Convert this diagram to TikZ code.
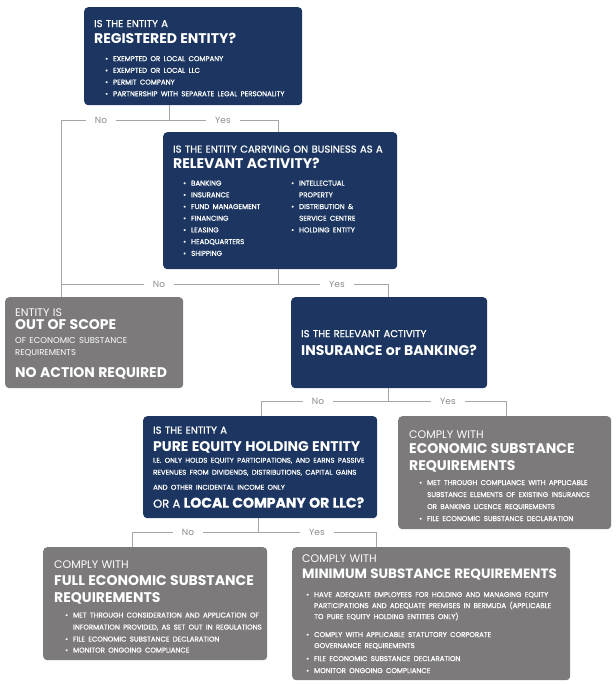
\documentclass[tikz,border=0pt]{standalone}
\usepackage{fontspec}
\setmainfont{Poppins}
\newfontfamily\medfont{Poppins}[FakeBold=0.9]
\usetikzlibrary{positioning}
\setlength\parindent{0pt}
\definecolor{navy}{RGB}{28,54,97}
\definecolor{boxgray}{RGB}{125,122,123}
\definecolor{linegray}{RGB}{165,165,165}
\definecolor{labelgray}{RGB}{140,140,140}
\tikzset{
    x=1pt, y=-1pt,
    qbox/.style = {fill=navy, text=white, rounded corners=4pt, anchor=north west,
                   align=left, inner xsep=10pt, inner ysep=0pt},
    abox/.style = {qbox, fill=boxgray},
    conn/.style = {draw=linegray, line width=0.8pt},
    lbl/.style  = {fill=white, text=labelgray, inner xsep=9pt, inner ysep=1pt,
                   font=\fontsize{9}{10}\selectfont}
}
\newlength\bulind
\newcommand\qtop[1]{\rule{0pt}{#1}}
\newcommand\qhead[2][16]{{\medfont\fontsize{10}{#1}\selectfont\mbox{#2}\par}}
\newcommand\qlight[2][14]{{\fontsize{11}{#1}\selectfont\mbox{#2}\par}}
\newcommand\qbig[2][16]{{\fontsize{14}{#1}\bfseries\selectfont\mbox{#2}\par}}
\newcommand\qnote[2][12]{{\medfont\fontsize{6.9}{#1}\selectfont\mbox{#2}\par}}
\newcommand\qitem[2][11.7]{{\medfont\fontsize{7}{#1}\selectfont\hspace*{\bulind}\makebox[8pt][l]{\textbullet}\mbox{#2}\par}}
\newcommand\qcont[2][11.7]{{\medfont\fontsize{7}{#1}\selectfont\hspace*{\bulind}\hspace*{8pt}\mbox{#2}\par}}

\begin{document}
\begin{tikzpicture}
    \useasboundingbox (0,0) rectangle (615,684);

    % question boxes
    \node[qbox, minimum width=218pt, minimum height=98pt, text width=198pt] (reg) at (84,7) {%
        \setlength\bulind{11pt}%
        \qhead{\qtop{11pt}IS THE ENTITY A}
        \qbig{REGISTERED ENTITY?}
        \qitem[18]{EXEMPTED OR LOCAL COMPANY}
        \qitem{EXEMPTED OR LOCAL LLC}
        \qitem{PERMIT COMPANY}
        \qitem{PARTNERSHIP WITH SEPARATE LEGAL PERSONALITY}};

    \node[qbox, minimum width=234pt, minimum height=137pt, text width=214pt] (act) at (163,132) {%
        \setlength\bulind{0pt}%
        \qhead{IS THE ENTITY CARRYING ON BUSINESS AS A}
        \qbig{RELEVANT ACTIVITY?}
        {\fontsize{7}{17}\selectfont\hspace*{10pt}%
        \parbox[t]{108pt}{\qitem{BANKING}\qitem{INSURANCE}\qitem{FUND MANAGEMENT}\qitem{FINANCING}%
            \qitem{LEASING}\qitem{HEADQUARTERS}\qitem{SHIPPING}}%
        \parbox[t]{90pt}{\qitem{INTELLECTUAL}\qcont{PROPERTY}\qitem{DISTRIBUTION \&}%
            \qcont{SERVICE CENTRE}\qitem{HOLDING ENTITY}}\par}};

    \node[qbox, minimum width=196pt, minimum height=91pt, text width=176pt] (insb) at (291,297) {%
        \qhead{IS THE RELEVANT ACTIVITY}
        \qbig[18]{INSURANCE or BANKING?}};

    \node[qbox, minimum width=234pt, minimum height=102pt, text width=214pt] (peh) at (143,416) {%
        \qhead{IS THE ENTITY A}
        \qbig[18]{PURE EQUITY HOLDING ENTITY}
        \qnote[11]{I.E. ONLY HOLDS EQUITY PARTICIPATIONS, AND EARNS PASSIVE}
        \qnote{REVENUES FROM DIVIDENDS, DISTRIBUTIONS, CAPITAL GAINS}
        \qnote[15]{AND OTHER INCIDENTAL INCOME ONLY}
        {\medfont\fontsize{11.5}{18}\selectfont OR A {\fontsize{14}{18}\bfseries\selectfont LOCAL COMPANY OR LLC?}\par}};

    % answer boxes
    \node[abox, minimum width=178pt, minimum height=91pt, text width=158pt] (scope) at (5,297) {%
        \qlight{\qtop{10.7pt}ENTITY IS}
        \qbig[13]{OUT OF SCOPE}
        {\fontsize{8.5}{14}\selectfont OF ECONOMIC SUBSTANCE\par}
        {\fontsize{8.5}{12}\selectfont REQUIREMENTS\par}
        \qbig[22]{NO ACTION REQUIRED}};

    \node[abox, minimum width=213pt, minimum height=113pt, text width=191pt, inner xsep=11pt] (esr) at (398,416) {%
        \setlength\bulind{10pt}%
        \qlight{\qtop{13.7pt}COMPLY WITH}
        \qbig[15]{ECONOMIC SUBSTANCE}
        \qbig[17]{REQUIREMENTS}
        \qitem[15]{MET THROUGH COMPLIANCE WITH APPLICABLE}
        \qcont[12]{SUBSTANCE ELEMENTS OF EXISTING INSURANCE}
        \qcont[12]{OR BANKING LICENCE REQUIREMENTS}
        \qitem[12]{FILE ECONOMIC SUBSTANCE DECLARATION}};

    \node[abox, minimum width=224pt, minimum height=113pt, text width=202pt, inner xsep=11pt] (full) at (43,547) {%
        \setlength\bulind{11pt}%
        \qlight{\qtop{13.7pt}COMPLY WITH}
        \qbig[17]{FULL ECONOMIC SUBSTANCE}
        \qbig[17]{REQUIREMENTS}
        \qitem[15]{MET THROUGH CONSIDERATION AND APPLICATION OF}
        \qcont[12]{INFORMATION PROVIDED, AS SET OUT IN REGULATIONS}
        \qitem[12]{FILE ECONOMIC SUBSTANCE DECLARATION}
        \qitem[11]{MONITOR ONGOING COMPLIANCE}};

    \node[abox, minimum width=278pt, minimum height=133pt, text width=258pt] (mini) at (292,547) {%
        \setlength\bulind{4pt}%
        \qlight{COMPLY WITH}
        {\fontsize{13.5}{16}\bfseries\selectfont\mbox{MINIMUM SUBSTANCE REQUIREMENTS}\par}
        \qitem[19]{HAVE ADEQUATE EMPLOYEES FOR HOLDING AND MANAGING EQUITY}
        \qcont[11]{PARTICIPATIONS AND ADEQUATE PREMISES IN BERMUDA (APPLICABLE}
        \qcont[11]{TO PURE EQUITY HOLDING ENTITIES ONLY)}
        \qitem[18]{COMPLY WITH APPLICABLE STATUTORY CORPORATE}
        \qcont[11]{GOVERNANCE REQUIREMENTS}
        \qitem[13]{FILE ECONOMIC SUBSTANCE DECLARATION}
        \qitem[12]{MONITOR ONGOING COMPLIANCE}};

    % junctions
    \coordinate (j1) at (169,120);
    \coordinate (j1l) at (61,120);
    \coordinate (j1r) at (278,120);
    \coordinate (j2) at (278,284);
    \coordinate (j2l) at (61,284);
    \coordinate (j2r) at (388,284);
    \coordinate (j3) at (388,401);
    \coordinate (j3l) at (261,401);
    \coordinate (j3r) at (506,401);
    \coordinate (j4) at (258,532);
    \coordinate (j4l) at (132,532);
    \coordinate (j4r) at (376,532);

    % connectors
    \draw[conn] (reg.south -| j1) -- (j1);
    \draw[conn] (j1) -- (j1l) -- (scope.north -| j1l);
    \draw[conn] (j1) -- (j1r) -- (act.north -| j1r);

    \draw[conn] (act.south -| j2) -- (j2);
    \draw[conn] (j2) -- (j2l);
    \draw[conn] (j2) -- (j2r) -- (insb.north -| j2r);

    \draw[conn] (insb.south -| j3) -- (j3);
    \draw[conn] (j3) -- (j3l) -- (peh.north -| j3l);
    \draw[conn] (j3) -- (j3r) -- (esr.north -| j3r);

    \draw[conn] (peh.south -| j4) -- (j4);
    \draw[conn] (j4) -- (j4l) -- (full.north -| j4l);
    \draw[conn] (j4) -- (j4r) -- (mini.north -| j4r);

    % answers on the lines
    \node[lbl] (no1) at (101,120) {No};
    \node[lbl] (yes1) at (223,120) {Yes};
    \node[lbl] (no2) at (159,284) {No};
    \node[lbl] (yes2) at (337,284) {Yes};
    \node[lbl] (no3) at (318,401) {No};
    \node[lbl] (yes3) at (448,401) {Yes};
    \node[lbl] (no4) at (188,532) {No};
    \node[lbl] (yes4) at (317,532) {Yes};
\end{tikzpicture}
\end{document}
